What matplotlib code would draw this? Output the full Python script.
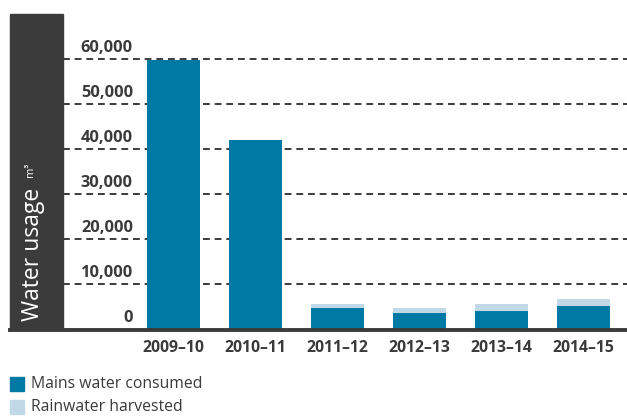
import matplotlib.pyplot as plt
from matplotlib.patches import Rectangle
from matplotlib.transforms import blended_transform_factory

# data
years = ['2009–10', '2010–11', '2011–12', '2012–13', '2013–14', '2014–15']
mains = [59800, 42000, 4700, 3600, 4000, 5100]
rain = [0, 0, 900, 1100, 1600, 1600]
yticks = [0, 10000, 20000, 30000, 40000, 50000, 60000]

mains_col = '#0079a5'
rain_col = '#c1d9e7'
dark = '#3b3b3b'
txt = '#3a3a3a'

plt.rcParams['font.family'] = ['Open Sans', 'DejaVu Sans']

fig = plt.figure(figsize=(6.27, 4.16), dpi=100)
W, H = 627, 416
ax = fig.add_axes([63 / W, (H - 329) / H, 564 / W, 315 / H])

x = list(range(len(years)))
ax.bar(x, mains, width=0.65, color=mains_col, zorder=3)
ax.bar(x, rain, width=0.65, bottom=mains, color=rain_col, zorder=3)

ax.set_xlim(-1.348, 5.53)
ax.set_ylim(0, 70000)

# dashed grid lines
for v in yticks[1:]:
    ax.axhline(v, color=dark, lw=1.4, ls=(0, (3.5, 2.5)), zorder=2)

# y labels sit above the grid lines
tr = blended_transform_factory(ax.transAxes, ax.transData)
for v in yticks:
    ax.annotate(f'{v:,}', xy=(0.124, v), xycoords=tr, xytext=(0, 2.5), textcoords='offset points',
                ha='right', va='bottom', fontsize=11.8, fontweight='bold', color=txt)

ax.set_xticks(x)
ax.set_xticklabels(years, fontsize=11.3, fontweight='bold', color=txt)
ax.tick_params(axis='x', length=0, pad=8)
ax.set_yticks([])
for s in ['top', 'right', 'left', 'bottom']:
    ax.spines[s].set_visible(False)

# dark band on the left with axis title
fig.patches.append(Rectangle((10 / W, (H - 329) / H), 53 / W, 315 / H,
                             transform=fig.transFigure, color=dark, zorder=0))
fig.text(33 / W, (H - 254) / H, 'Water usage', rotation=90, color='white', fontsize=16.5,
         ha='center', va='center')
fig.text(31 / W, (H - 170) / H, 'm³', rotation=90, color='white', fontsize=8,
         ha='center', va='center')

# baseline
fig.add_artist(plt.Line2D([10 / W, 1], [(H - 330) / H] * 2, transform=fig.transFigure,
                          color=dark, lw=2.8))

# legend
for i, (lab, c) in enumerate([('Mains water consumed', mains_col), ('Rainwater harvested', rain_col)]):
    y0 = H - 391 - i * 23
    fig.patches.append(Rectangle((10 / W, y0 / H), 14 / W, 14 / H, transform=fig.transFigure, color=c))
    fig.text(31 / W, (y0 + 7) / H, lab, fontsize=11.3, color=txt, va='center', ha='left')

fig.savefig('out.png', dpi=100)
